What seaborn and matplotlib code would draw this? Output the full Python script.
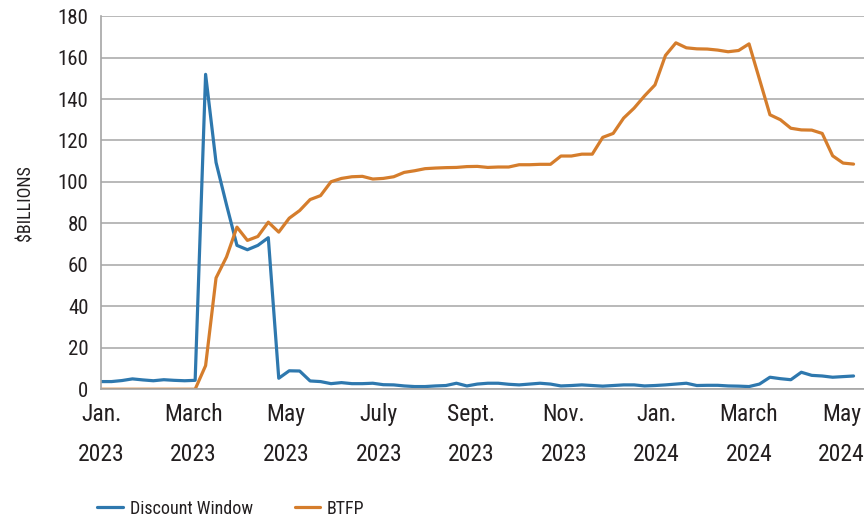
import pandas as pd
import matplotlib
matplotlib.use('Agg')
import matplotlib.pyplot as plt
import seaborn as sns

# Weekly Wednesday levels, $ billions
start = pd.Timestamp('2023-01-04')
discount_window = [3.7, 3.7, 4.2, 5.0, 4.5, 4.1, 4.6, 4.3, 4.1, 4.3,
                   151.9, 109.4, 89.0, 69.4, 67.3, 69.4, 73.1, 5.3, 8.9, 8.8,
                   4.0, 3.7, 2.7, 3.2, 2.7, 2.7, 2.9, 2.2, 2.1, 1.6,
                   1.3, 1.3, 1.6, 1.8, 2.9, 1.6, 2.5, 2.9, 2.9, 2.4,
                   2.1, 2.5, 2.9, 2.5, 1.6, 1.8, 2.1, 1.8, 1.5, 1.8,
                   2.1, 2.1, 1.6, 1.8, 2.1, 2.5, 2.9, 1.8, 1.9, 1.9,
                   1.6, 1.5, 1.3, 2.5, 5.8, 5.1, 4.6, 8.2, 6.7, 6.4,
                   5.8, 6.1, 6.4]
btfp = [0, 0, 0, 0, 0, 0, 0, 0, 0, 0,
        11.4, 53.7, 63.8, 78.2, 71.8, 73.7, 80.6, 75.8, 82.5, 86.2,
        91.5, 93.4, 100.1, 101.7, 102.5, 102.7, 101.4, 101.7, 102.5, 104.6,
        105.4, 106.4, 106.7, 106.9, 107.0, 107.4, 107.5, 107.0, 107.2, 107.2,
        108.3, 108.3, 108.5, 108.5, 112.5, 112.5, 113.4, 113.4, 121.5, 123.4,
        130.8, 135.6, 141.5, 146.8, 161.0, 167.1, 164.7, 164.2, 164.1, 163.6,
        162.8, 163.4, 166.6, 149.5, 132.4, 130.0, 125.9, 125.1, 125.0, 123.4,
        112.6, 109.1, 108.6]
dates = pd.date_range(start, periods=len(btfp), freq='7D')
tick_labels = ['Jan.\n2023', 'March\n2023', 'May\n2023', 'July\n2023', 'Sept.\n2023',
               'Nov.\n2023', 'Jan.\n2024', 'March\n2024', 'May\n2024']

df = pd.DataFrame({'date': dates, 'Discount Window': discount_window, 'BTFP': btfp})
long_df = df.melt(id_vars='date', var_name='series', value_name='value')

sns.set_style('white')
plt.rcParams['font.family'] = ['Roboto Condensed', 'Liberation Sans Narrow',
                               'DejaVu Sans', 'Liberation Sans']
plt.rcParams['font.stretch'] = 'condensed'

fig = plt.figure(figsize=(8.64, 5.19), dpi=100)
ax = fig.add_axes([0.117, 0.25, 0.883, 0.719])

sns.lineplot(data=long_df, x='date', y='value', hue='series',
             palette={'Discount Window': '#2E78AE', 'BTFP': '#D57D2C'},
             linewidth=2.3, ax=ax, legend=True)

grid_c = '#A6A6A6'
ax.set_ylim(0, 180)
ax.set_yticks(range(0, 181, 20))
ax.set_xlim(start, start + pd.Timedelta(days=511))
ax.set_xticks([start + pd.Timedelta(days=62 * k) for k in range(9)])
ax.set_xticklabels(tick_labels, linespacing=1.95)
ax.yaxis.grid(True, color=grid_c, linewidth=1.1)
ax.set_axisbelow(True)

for s in ['top', 'right']:
    ax.spines[s].set_visible(False)
for s in ['left', 'bottom']:
    ax.spines[s].set_color(grid_c)
    ax.spines[s].set_linewidth(1.2)

ax.tick_params(axis='x', which='major', length=7, width=1.1, color=grid_c,
               labelsize=17, labelcolor='#231F20', pad=3)
ax.tick_params(axis='y', which='major', length=4, width=1.1, color=grid_c,
               labelsize=15, labelcolor='#231F20', pad=5)

ax.set_xlabel('')
ax.set_ylabel('$BILLIONS', fontsize=13, color='#231F20', labelpad=17)

handles, labels = ax.get_legend_handles_labels()
ax.get_legend().remove()
fig.legend(handles, labels, loc='center left', bbox_to_anchor=(0.094, 0.02),
           ncol=2, frameon=False, fontsize=13, handlelength=1.4,
           columnspacing=2.3, handletextpad=0.4, labelcolor='#231F20')

fig.savefig('out.png', dpi=100)
